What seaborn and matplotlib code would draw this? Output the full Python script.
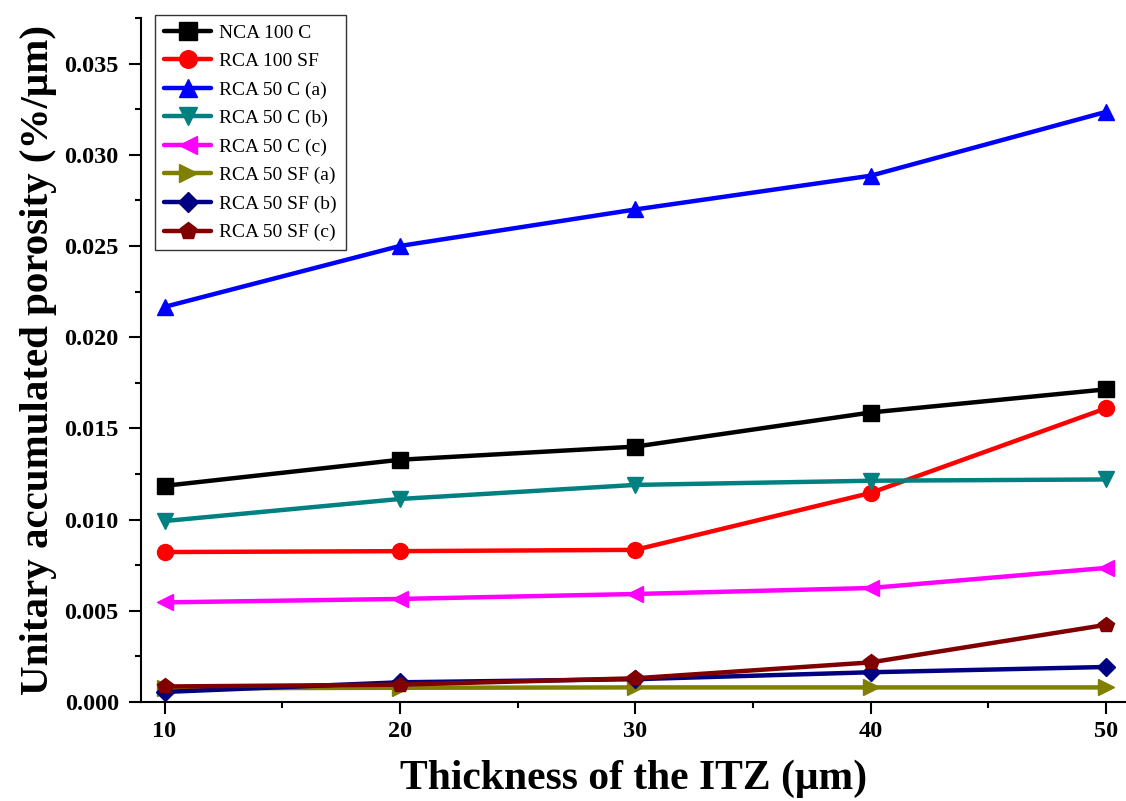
import numpy as np
import seaborn as sns
import matplotlib.pyplot as plt
from matplotlib.ticker import MultipleLocator, FormatStrFormatter

# ================== data ==================
thickness = [10, 20, 30, 40, 50]

nca_100_c = [0.01185, 0.01328, 0.01400, 0.01587, 0.01714]
rca_100_sf = [0.00822, 0.00827, 0.00834, 0.01146, 0.01610]
rca_50_c_a = [0.02166, 0.02500, 0.02700, 0.02885, 0.03235]
rca_50_c_b = [0.00992, 0.01113, 0.01190, 0.01213, 0.01220]
rca_50_c_c = [0.00546, 0.00565, 0.00592, 0.00625, 0.00735]
rca_50_sf_a = [0.00075, 0.00078, 0.00080, 0.00080, 0.00080]
rca_50_sf_b = [0.00055, 0.00108, 0.00125, 0.00163, 0.00192]
rca_50_sf_c = [0.00085, 0.00095, 0.00130, 0.00217, 0.00423]

labels = ['NCA 100 C', 'RCA 100 SF', 'RCA 50 C (a)', 'RCA 50 C (b)',
          'RCA 50 C (c)', 'RCA 50 SF (a)', 'RCA 50 SF (b)', 'RCA 50 SF (c)']
series = [nca_100_c, rca_100_sf, rca_50_c_a, rca_50_c_b,
          rca_50_c_c, rca_50_sf_a, rca_50_sf_b, rca_50_sf_c]
colors = ['#000000', '#FF0000', '#0000FF', '#008080',
          '#FF00FF', '#808000', '#000080', '#800000']
markers = ['s', 'o', '^', 'v', '<', '>', 'D', 'p']
# ===========================================

sns.set_style('ticks', {'axes.edgecolor': 'black', 'text.color': 'black',
                        'axes.labelcolor': 'black', 'xtick.color': 'black',
                        'ytick.color': 'black'})
plt.rcParams['font.family'] = ['Liberation Serif', 'DejaVu Serif']

fig = plt.figure(figsize=(11.26, 8.01), dpi=100)
ax = fig.add_axes([0.1252, 0.1236, 0.8748, 0.854])

for lab, vals, c, m in zip(labels, series, colors, markers):
    ms = 11.5 if m != 'D' else 9.5
    sns.lineplot(x=thickness, y=vals, ax=ax, color=c, marker=m, label=lab,
                 linewidth=3.2, markersize=ms, markeredgecolor=c,
                 markeredgewidth=1, clip_on=False)

ax.set_xlim(9.0, 50.85)
ax.set_ylim(0, 0.0375)
ax.xaxis.set_major_locator(MultipleLocator(10))
ax.xaxis.set_minor_locator(MultipleLocator(5))
ax.yaxis.set_major_locator(MultipleLocator(0.005))
ax.yaxis.set_minor_locator(MultipleLocator(0.0025))
ax.yaxis.set_major_formatter(FormatStrFormatter('%.3f'))

ax.spines['top'].set_visible(False)
ax.spines['right'].set_visible(False)
for s in ['left', 'bottom']:
    ax.spines[s].set_linewidth(1.5)

ax.tick_params(which='major', direction='out', length=8.5, width=1.5,
               labelsize=17.5, pad=5)
ax.tick_params(axis='y', which='major', pad=7.5)
ax.tick_params(which='minor', direction='out', length=4.5, width=1.5)
for t in ax.get_xticklabels() + ax.get_yticklabels():
    t.set_fontweight('bold')

ax.set_xlabel('Thickness of the ITZ (μm)', fontsize=30, fontweight='bold',
              labelpad=13)
ax.set_ylabel('Unitary accumulated porosity (%/μm)', fontsize=29.5,
              fontweight='bold', labelpad=5)

leg = ax.legend(loc='upper left', bbox_to_anchor=(0.1377, 0.981),
                bbox_transform=fig.transFigure, fontsize=14,
                frameon=True, fancybox=False, edgecolor='black',
                handlelength=2.45, labelspacing=0.56, borderpad=0.45,
                handletextpad=0.4, borderaxespad=0, markerscale=1.1)
leg.get_frame().set_linewidth(1.0)

plt.savefig('out.png', dpi=100)
